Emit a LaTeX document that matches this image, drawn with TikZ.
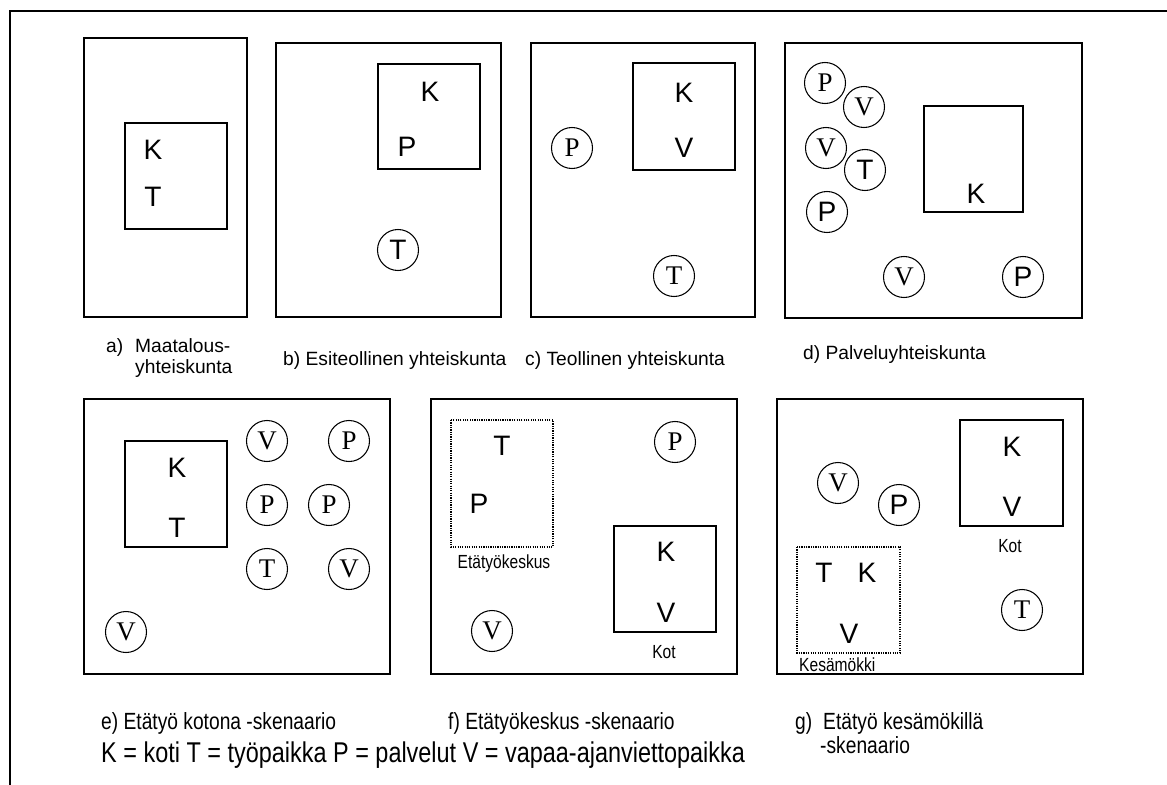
\documentclass[tikz,border=0pt]{standalone}
\usepackage{fontspec}
\setmainfont{Liberation Sans}
\newfontfamily\serifletters{Liberation Serif}
\newfontfamily\narrowfont[FakeStretch=0.82]{Liberation Sans}
\usepackage{tikz}
\usetikzlibrary{positioning}

\tikzset{
  panel/.style={draw, line width=1pt},
  homebox/.style={draw, line width=1pt},
  centrebox/.style={draw, line width=1pt, densely dotted},
  place/.style={draw, circle, line width=0.9pt, minimum size=1.23cm, inner sep=0pt, font=\serifletters\fontsize{23}{23}\selectfont},
  splace/.style={place, font=\fontsize{24}{24}\selectfont},
  letter/.style={inner sep=0pt, font=\fontsize{24}{24}\selectfont},
  caption/.style={inner sep=0pt, anchor=base west, font=\fontsize{16.4}{18}\selectfont},
  ncaption/.style={inner sep=0pt, anchor=base west, font=\narrowfont\fontsize{20}{22}\selectfont},
  boxlabel/.style={inner sep=0pt, font=\narrowfont\fontsize{16.2}{18}\selectfont}
}

\begin{document}
\begin{tikzpicture}[x=0.03cm, y=-0.03cm]
  \useasboundingbox (0,0) rectangle (1167,785);

  % Frame
  \draw[line width=1pt] (10,785) -- (10,11) -- (1167,11);

  % a) Maatalousyhteiskunta
  \draw[panel] (84,38) rectangle (247,317);
  \draw[homebox] (125,123) rectangle (227,229);
  \node[letter] (aK) at (153,150) {K};
  \node[letter] (aT) at (153,197) {T};
  \node[caption] (acap) at (106,352) {a)};
  \node[caption] (acap1) at (135,352) {Maatalous-};
  \node[caption] (acap2) at (135,373) {yhteiskunta};

  % b) Esiteollinen yhteiskunta
  \draw[panel] (276,43) rectangle (501,317);
  \draw[homebox] (378,64) rectangle (480,169);
  \node[letter] (bK) at (430,92) {K};
  \node[letter] (bP) at (407,147) {P};
  \node[splace] (bT) at (398,250) {T};
  \node[caption] (bcap) at (283,365) {b) Esiteollinen yhteiskunta};

  % c) Teollinen yhteiskunta
  \draw[panel] (531,43) rectangle (755,317);
  \draw[homebox] (633,63) rectangle (735,170);
  \node[letter] (cK) at (684,93) {K};
  \node[letter] (cV) at (684,148) {V};
  \node[place] (cP) at (572,148) {P};
  \node[place] (cT) at (674,276) {T};
  \node[caption] (ccap) at (525,365) {c) Teollinen yhteiskunta};

  % d) Palveluyhteiskunta
  \draw[panel] (785,43) rectangle (1082,318);
  \draw[homebox] (924,106) rectangle (1023,212);
  \node[letter] (dK) at (976,194) {K};
  \node[place] (dP1) at (825,83) {P};
  \node[place] (dV1) at (864,107) {V};
  \node[place] (dV2) at (826,148) {V};
  \node[splace] (dT) at (865,170) {T};
  \node[splace] (dP2) at (827,212) {P};
  \node[place] (dV3) at (904,277) {V};
  \node[splace] (dP3) at (1023,277) {P};
  \node[caption] (dcap) at (803,359) {d) Palveluyhteiskunta};

  % e) Etätyö kotona
  \draw[panel] (84,399) rectangle (390,674);
  \draw[homebox] (125,441) rectangle (227,547);
  \node[letter] (eK) at (177,468) {K};
  \node[letter] (eT) at (177,528) {T};
  \node[place] (eV1) at (267,441) {V};
  \node[place] (eP1) at (349,441) {P};
  \node[place] (eP2) at (267,505) {P};
  \node[place] (eP3) at (329,505) {P};
  \node[place] (eT2) at (267,569) {T};
  \node[place] (eV2) at (349,569) {V};
  \node[place] (eV3) at (126,632) {V};
  \node[ncaption] (ecap) at (101,729) {e) Etätyö kotona -skenaario};

  % f) Etätyökeskus
  \draw[panel] (431,399) rectangle (737,674);
  \draw[centrebox] (451,420) rectangle (553,547);
  \node[letter] (fT) at (502,446) {T};
  \node[letter] (fP) at (479,504) {P};
  \node[boxlabel] (fcentre) at (504,564) {Etätyökeskus};
  \draw[homebox] (614,526) rectangle (716,632);
  \node[letter] (fK) at (666,552) {K};
  \node[letter] (fV) at (666,613) {V};
  \node[boxlabel] (fkot) at (664,652) {Kot};
  \node[place] (fP2) at (675,442) {P};
  \node[place] (fV2) at (492,631) {V};
  \node[ncaption] (fcap) at (448,729) {f) Etätyökeskus -skenaario};

  % g) Etätyö kesämökillä
  \draw[panel] (777,399) rectangle (1083,674);
  \draw[homebox] (960,420) rectangle (1063,526);
  \node[letter] (gK) at (1012,447) {K};
  \node[letter] (gV) at (1012,507) {V};
  \node[boxlabel] (gkot) at (1010,546) {Kot};
  \draw[centrebox] (797,547) rectangle (900,653);
  \node[letter] (gT2) at (824,573) {T};
  \node[letter] (gK2) at (867,573) {K};
  \node[letter] (gV2) at (849,634) {V};
  \node[boxlabel, anchor=west] (gcottage) at (799,665) {Kesämökki};
  \node[place] (gV3) at (838,483) {V};
  \node[splace] (gP) at (899,505) {P};
  \node[place] (gT) at (1022,610) {T};
  \node[ncaption] (gcap) at (795,729) {g)};
  \node[ncaption] (gcap1) at (823,729) {Etätyö kesämökillä};
  \node[ncaption] (gcap2) at (820,753) {-skenaario};

  % Legend
  \node[inner sep=0pt, anchor=base west, font=\narrowfont\fontsize{24.4}{26}\selectfont] (legend) at (101,762)
    {K = koti T = työpaikka P = palvelut V = vapaa-ajanviettopaikka};
\end{tikzpicture}
\end{document}
